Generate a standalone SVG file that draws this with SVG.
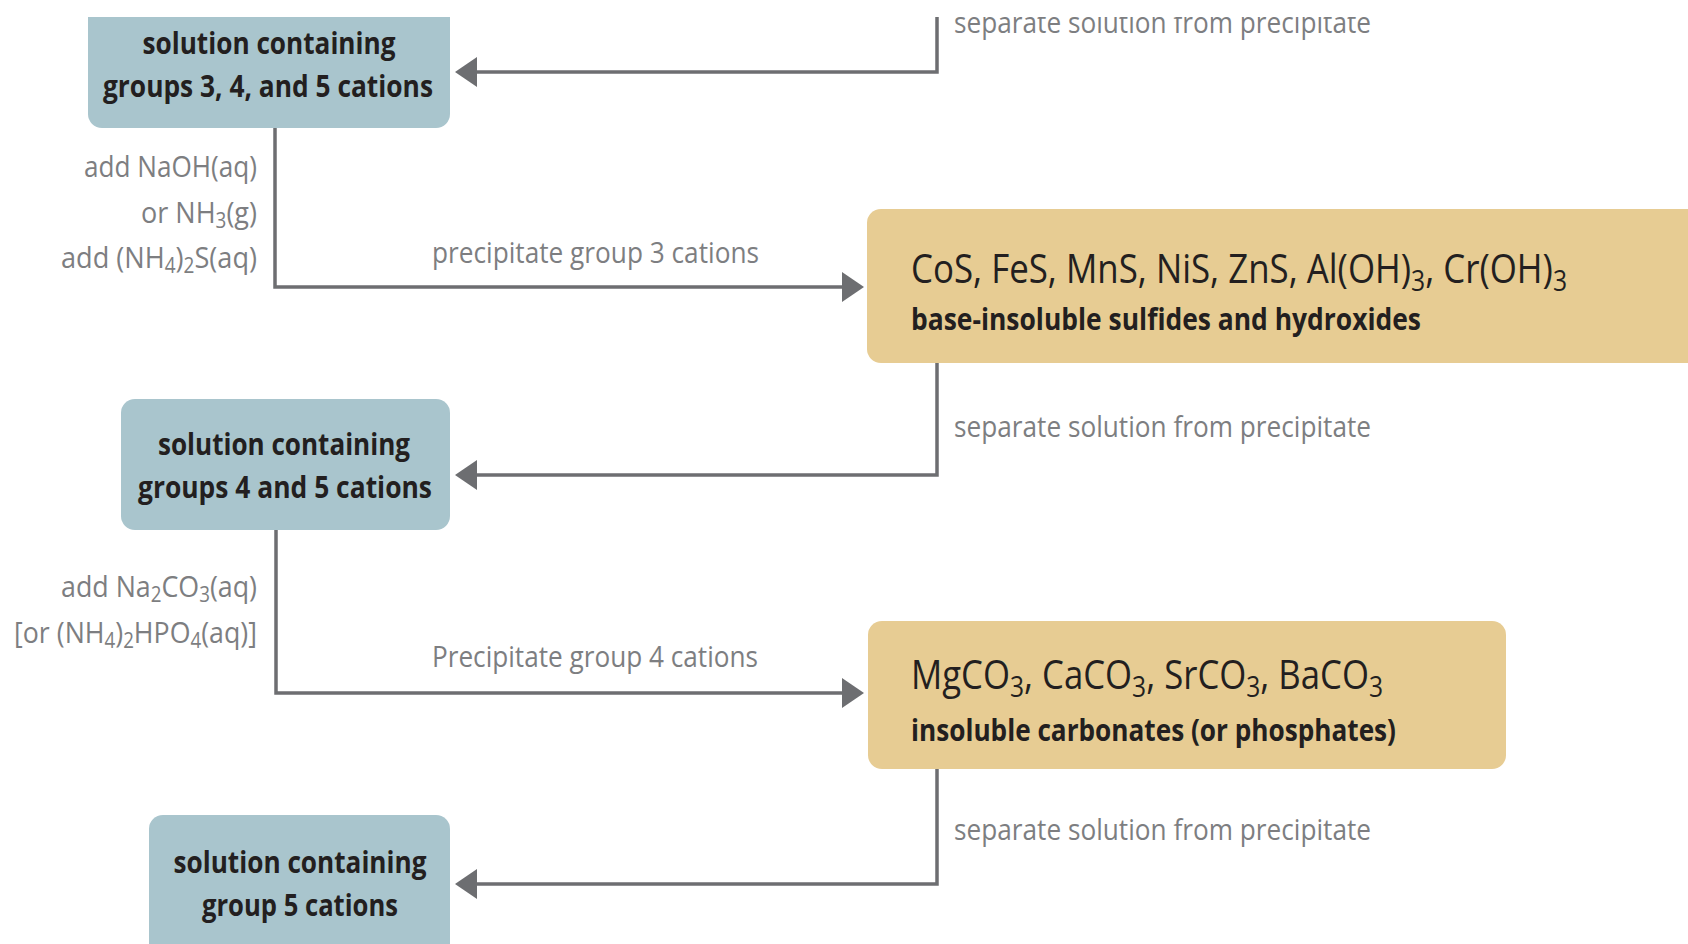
<svg xmlns="http://www.w3.org/2000/svg" width="1688" height="944" viewBox="0 0 1688 944">
<defs>
<style>
.t{font-family:"Open Sans","Liberation Sans",sans-serif}
.lbl{font-size:30px;fill:#7d7e81}
.end{text-anchor:end}
.bt{font-size:31px;font-weight:700;fill:#231f20;text-anchor:middle}
.fm{font-size:41px;fill:#231f20}
.sb{font-size:31px;font-weight:700;fill:#231f20}
.ln{fill:none;stroke:#6d6e71;stroke-width:3.5;stroke-linejoin:miter}
.sol{fill:#a9c5cd}
.ppt{fill:#e7cc93}
</style>
<marker id="ah" viewBox="0 0 22 30" refX="0" refY="15" markerWidth="22" markerHeight="30" markerUnits="userSpaceOnUse" orient="auto">
<path d="M0,0 L22,15 L0,30 Z" fill="#6d6e71"/>
</marker>
<clipPath id="clip"><rect x="0" y="17" width="1688" height="927"/></clipPath>
</defs>
<rect x="0" y="0" width="1688" height="944" fill="#ffffff"/>
<g clip-path="url(#clip)">
<g id="connectors">
<path class="ln" d="M937,0 V72 H477" marker-end="url(#ah)"/>
<path class="ln" d="M275,128 V287 H842" marker-end="url(#ah)"/>
<path class="ln" d="M937,363 V475 H477" marker-end="url(#ah)"/>
<path class="ln" d="M276,530 V693 H842" marker-end="url(#ah)"/>
<path class="ln" d="M937,769 V884 H477" marker-end="url(#ah)"/>
</g>
<g id="labels">
<text class="t lbl" x="954" y="33" textLength="417" lengthAdjust="spacingAndGlyphs">separate solution from precipitate</text>
<text class="t lbl end" x="257" y="177" textLength="173" lengthAdjust="spacingAndGlyphs">add NaOH(aq)</text>
<text class="t lbl end" x="257" y="223" textLength="116" lengthAdjust="spacingAndGlyphs">or NH<tspan dy="5" font-size="21">3</tspan><tspan dy="-5">(g)</tspan></text>
<text class="t lbl end" x="257" y="268" textLength="196" lengthAdjust="spacingAndGlyphs">add (NH<tspan dy="5" font-size="21">4</tspan><tspan dy="-5">)</tspan><tspan dy="5" font-size="21">2</tspan><tspan dy="-5">S(aq)</tspan></text>
<text class="t lbl" x="432" y="263" textLength="327" lengthAdjust="spacingAndGlyphs">precipitate group 3 cations</text>
<text class="t lbl" x="954" y="437" textLength="417" lengthAdjust="spacingAndGlyphs">separate solution from precipitate</text>
<text class="t lbl end" x="257" y="597" textLength="196" lengthAdjust="spacingAndGlyphs">add Na<tspan dy="5" font-size="21">2</tspan><tspan dy="-5">CO</tspan><tspan dy="5" font-size="21">3</tspan><tspan dy="-5">(aq)</tspan></text>
<text class="t lbl end" x="257" y="643" textLength="243" lengthAdjust="spacingAndGlyphs">[or (NH<tspan dy="5" font-size="21">4</tspan><tspan dy="-5">)</tspan><tspan dy="5" font-size="21">2</tspan><tspan dy="-5">HPO</tspan><tspan dy="5" font-size="21">4</tspan><tspan dy="-5">(aq)]</tspan></text>
<text class="t lbl" x="432" y="667" textLength="326" lengthAdjust="spacingAndGlyphs">Precipitate group 4 cations</text>
<text class="t lbl" x="954" y="840" textLength="417" lengthAdjust="spacingAndGlyphs">separate solution from precipitate</text>
</g>
<g id="n1">
<rect class="sol" x="88" y="-14" width="362" height="142" rx="14"/>
<text class="t bt" x="269" y="54" textLength="253" lengthAdjust="spacingAndGlyphs">solution containing</text>
<text class="t bt" x="268" y="97" textLength="330" lengthAdjust="spacingAndGlyphs">groups 3, 4, and 5 cations</text>
</g>
<g id="n2">
<rect class="ppt" x="867" y="209" width="900" height="154" rx="14"/>
<text class="t fm" x="911" y="283" textLength="656" lengthAdjust="spacingAndGlyphs">CoS, FeS, MnS, NiS, ZnS, Al(OH)<tspan dy="8" font-size="29">3</tspan><tspan dy="-8">, Cr(OH)</tspan><tspan dy="8" font-size="29">3</tspan></text>
<text class="t sb" x="911" y="330" textLength="510" lengthAdjust="spacingAndGlyphs">base-insoluble sulfides and hydroxides</text>
</g>
<g id="n3">
<rect class="sol" x="121" y="399" width="329" height="131" rx="14"/>
<text class="t bt" x="284" y="455" textLength="252" lengthAdjust="spacingAndGlyphs">solution containing</text>
<text class="t bt" x="285" y="498" textLength="294" lengthAdjust="spacingAndGlyphs">groups 4 and 5 cations</text>
</g>
<g id="n4">
<rect class="ppt" x="868" y="621" width="638" height="148" rx="14"/>
<text class="t fm" x="911" y="689" textLength="472" lengthAdjust="spacingAndGlyphs">MgCO<tspan dy="8" font-size="29">3</tspan><tspan dy="-8">, CaCO</tspan><tspan dy="8" font-size="29">3</tspan><tspan dy="-8">, SrCO</tspan><tspan dy="8" font-size="29">3</tspan><tspan dy="-8">, BaCO</tspan><tspan dy="8" font-size="29">3</tspan></text>
<text class="t sb" x="911" y="741" textLength="485" lengthAdjust="spacingAndGlyphs">insoluble carbonates (or phosphates)</text>
</g>
<g id="n5">
<rect class="sol" x="149" y="815" width="301" height="160" rx="14"/>
<text class="t bt" x="300" y="873" textLength="253" lengthAdjust="spacingAndGlyphs">solution containing</text>
<text class="t bt" x="300" y="916" textLength="196" lengthAdjust="spacingAndGlyphs">group 5 cations</text>
</g>
</g>
</svg>
